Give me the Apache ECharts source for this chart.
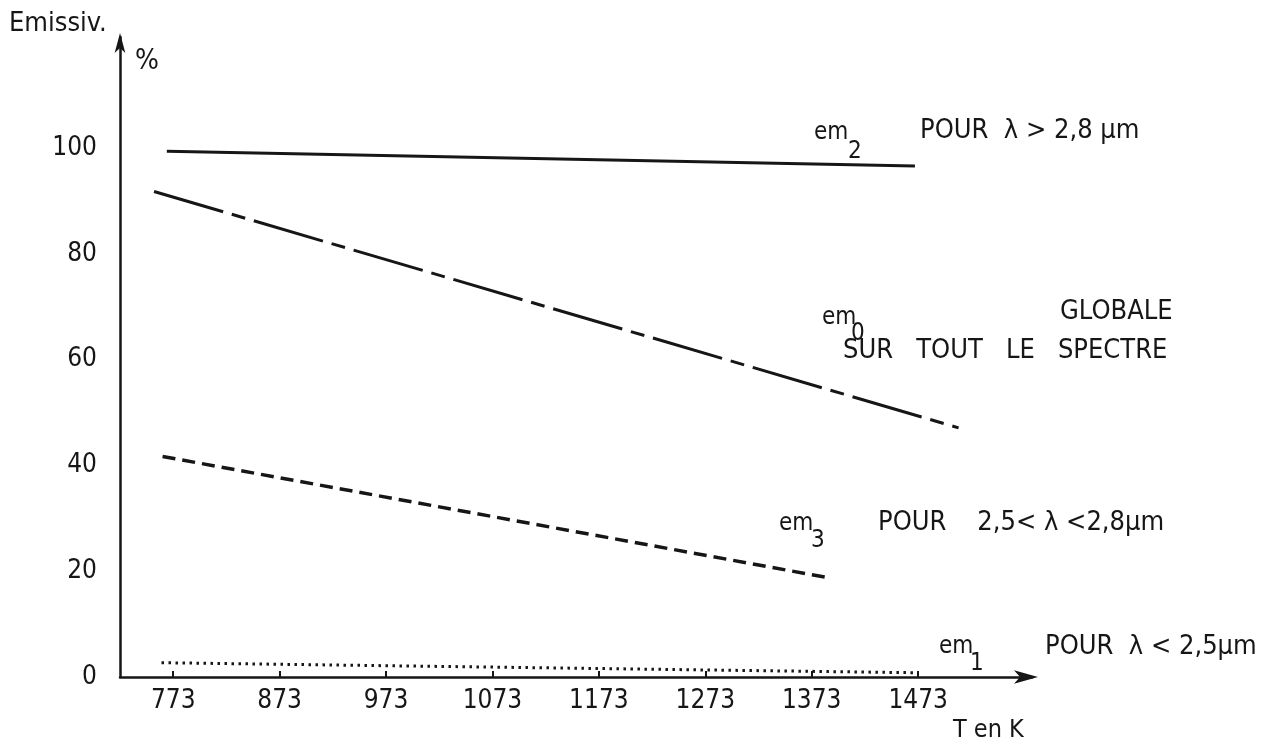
<!DOCTYPE html>
<html><head><meta charset="utf-8">
<script src="https://cdn.jsdelivr.net/npm/echarts@6.0.0/dist/echarts.min.js"></script>
<style>html,body{margin:0;background:#fff}#c{width:1280px;height:745px}</style>
</head><body><div id="c"></div>
<script>
// Temperature tick labels (K) and emissivity tick labels (%)
const tempTicks = [773, 873, 973, 1073, 1173, 1273, 1373, 1473];
const emissTicks = [0, 20, 40, 60, 80, 100];
// Series: [T (K), emissivity (%)]
const em2 = [[767, 99.4], [1470, 96.6]];   // λ > 2,8 µm
const em0 = [[755, 91.8], [1511, 47.1]];   // globale
const em3 = [[763, 41.7], [1388, 18.8]];   // 2,5 < λ < 2,8 µm
const em1 = [[762, 2.7], [1473, 0.8]];     // λ < 2,5 µm

const INK = '#161616';
const F = "'DejaVu Sans Condensed', 'DejaVu Sans', sans-serif";

function txt(x, y, text, size, align) {
  return { type: 'text', x: x, y: y, silent: true,
    style: { text: text, font: (size || 24) + 'px ' + F, fill: INK,
      textAlign: align || 'left', textVerticalAlign: 'middle' } };
}

const chart = echarts.init(document.getElementById('c'), null, { renderer: 'canvas' });
chart.setOption({
  backgroundColor: '#ffffff',
  animation: false,
  grid: { left: 120, right: 248, top: 37, bottom: 68 },
  xAxis: {
    type: 'value', min: 723, max: 1580,
    axisLine: { onZero: true, symbol: ['none', 'arrow'], symbolSize: [10, 24], symbolOffset: [0, 6],
      lineStyle: { color: INK, width: 2.5 } },
    axisTick: { show: true, customValues: tempTicks, inside: true, length: 6, lineStyle: { color: INK, width: 2 } },
    axisLabel: { customValues: tempTicks, formatter: function (v) { return String(v); },
      fontFamily: F, fontSize: 26, color: INK, margin: 11 },
    splitLine: { show: false }
  },
  yAxis: {
    type: 'value', min: 0, max: 121,
    axisLine: { show: true, symbol: ['none', 'arrow'], symbolSize: [8, 20], symbolOffset: [0, 4],
      lineStyle: { color: INK, width: 2.5 } },
    axisTick: { show: false },
    axisLabel: { customValues: emissTicks, formatter: function (v) { return String(v); },
      fontFamily: F, fontSize: 26, color: INK, margin: 23 },
    splitLine: { show: false }
  },
  series: [
    { name: 'em2', type: 'line', data: em2, symbol: 'none', lineStyle: { color: INK, width: 3 } },
    { name: 'em0', type: 'line', data: em0, symbol: 'none', lineStyle: { color: INK, width: 3, type: [72, 9, 14, 9] } },
    { name: 'em3', type: 'line', data: em3, symbol: 'none', lineStyle: { color: INK, width: 3.5, type: [13, 7] } },
    { name: 'em1', type: 'line', data: em1, symbol: 'none', lineStyle: { color: INK, width: 3, type: [2.5, 4.5] } }
  ],
  graphic: [
    txt(9, 24, 'Emissiv.', 27),
    txt(135, 62, '%', 28),
    txt(814, 133, 'em', 24), txt(848, 152, '2', 24),
    txt(920, 131, 'POUR  λ > 2,8 µm', 27),
    txt(822, 318, 'em', 24), txt(851, 334, '0', 24),
    txt(1060, 312, 'GLOBALE', 27),
    txt(843, 351, 'SUR   TOUT   LE   SPECTRE', 27),
    txt(779, 524, 'em', 24), txt(811, 541, '3', 24),
    txt(878, 523, 'POUR    2,5< λ <2,8µm', 27),
    txt(939, 647, 'em', 24), txt(970, 664, '1', 24),
    txt(1045, 647, 'POUR  λ < 2,5µm', 27),
    txt(953, 730, 'T en K', 25)
  ]
});
</script>
</body></html>
